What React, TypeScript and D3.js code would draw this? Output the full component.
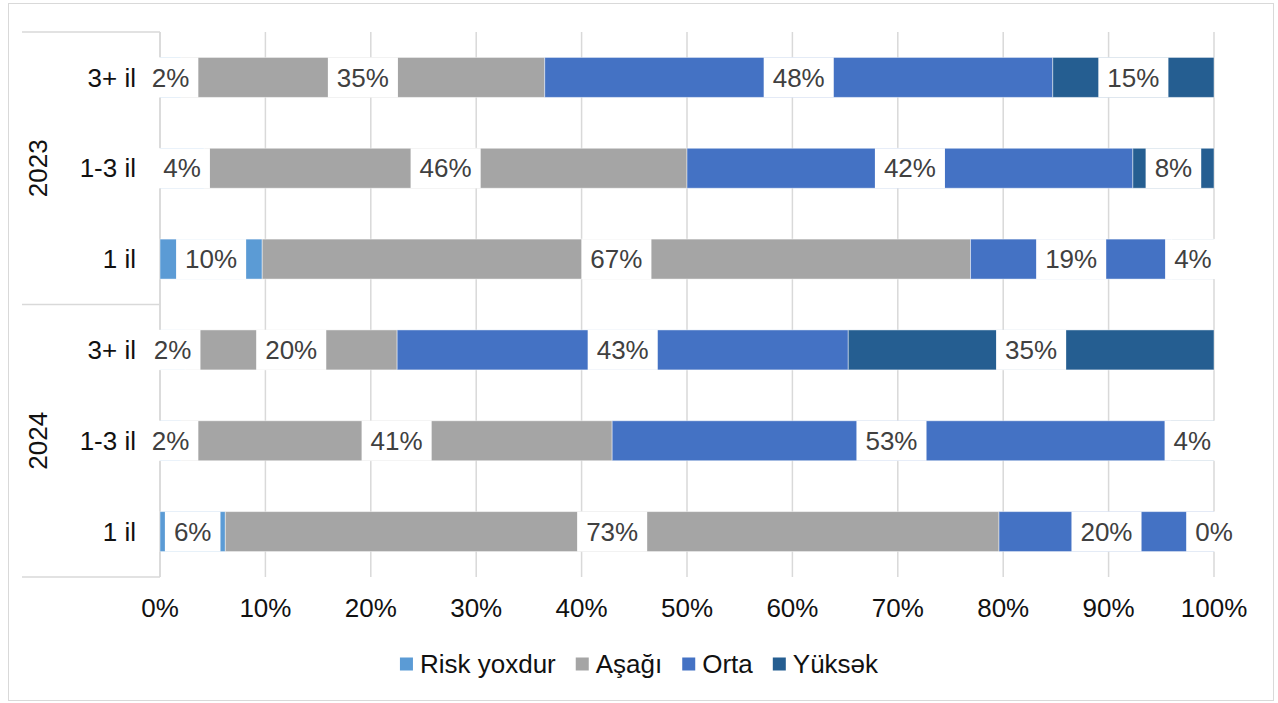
import React from "react";
import * as d3 from "d3";

// categories (top to bottom) and their year groups
const categories = ["3+ il", "1-3 il", "1 il", "3+ il", "1-3 il", "1 il"];
const years = ["2023", "2024"];
const yearOfRow = ["2023", "2023", "2023", "2024", "2024", "2024"];

// series values, % of row
const riskYoxdur = [2.0, 4.2, 9.7, 2.4, 2.0, 6.2];
const asagi = [34.5, 45.8, 67.2, 20.1, 40.9, 73.4];
const orta = [48.2, 42.3, 19.1, 42.8, 53.0, 20.4];
const yuksek = [15.3, 7.7, 4.0, 34.7, 4.1, 0.0];

const seriesNames = ["Risk yoxdur", "Aşağı", "Orta", "Yüksək"];
const seriesColors = ["#5B9BD5", "#A5A5A5", "#4472C4", "#255E91"];
const xTicks = [0, 10, 20, 30, 40, 50, 60, 70, 80, 90, 100];

const W = 1278;
const H = 703;
const margin = { top: 32, right: 64, bottom: 126, left: 160 };
const FONT = '"Liberation Sans", Arial, sans-serif';
const FS = 26;

const measure = (() => {
  const ctx = document.createElement("canvas").getContext("2d");
  return (s: string) => {
    if (!ctx) return s.length * FS * 0.55;
    ctx.font = `${FS}px "Liberation Sans", Arial, sans-serif`;
    return ctx.measureText(s).width;
  };
})();

export default function App() {
  const innerW = W - margin.left - margin.right;
  const innerH = H - margin.top - margin.bottom;

  const rows = categories.map((c, i) => ({
    key: i,
    cat: c,
    year: yearOfRow[i],
    vals: [riskYoxdur[i], asagi[i], orta[i], yuksek[i]],
  }));

  const x = d3.scaleLinear().domain([0, 100]).range([0, innerW]);
  const y = d3
    .scaleBand<number>()
    .domain(rows.map((r) => r.key))
    .range([0, innerH])
    .paddingInner(0.56)
    .paddingOuter(0.28);

  const stack = d3
    .stack<any>()
    .keys(["0", "1", "2", "3"])
    .value((d, k) => d.vals[+k]);
  const stacked = stack(rows);

  const bandH = innerH / rows.length;

  // legend layout
  const sq = 13;
  const legendItems = seriesNames.map((n) => ({ n, w: sq + 7 + measure(n) + 20 }));
  const legendTotal = d3.sum(legendItems, (d) => d.w) - 20;
  let lx = W / 2 - legendTotal / 2;
  const legendPos = legendItems.map((d) => {
    const p = lx;
    lx += d.w;
    return p;
  });

  return (
    <svg
      width={W}
      height={H}
      style={{ position: "absolute", left: 0, top: 0, fontFamily: FONT }}
    >
      <rect x={0} y={0} width={W} height={H} fill="#fff" />
      <rect x={8.5} y={3.5} width={1265} height={697} fill="#fff" stroke="#d9d9d9" />
      <g transform={`translate(${margin.left},${margin.top})`}>
        {/* gridlines */}
        {xTicks.map((t) => (
          <line
            key={t}
            x1={x(t)}
            x2={x(t)}
            y1={0}
            y2={innerH}
            stroke="#d9d9d9"
            strokeWidth={1.5}
          />
        ))}
        {/* category axis frame */}
        {[0, innerH / 2, innerH].map((yy, i) => (
          <line
            key={i}
            x1={22 - margin.left}
            x2={0}
            y1={yy}
            y2={yy}
            stroke="#d9d9d9"
            strokeWidth={1.5}
          />
        ))}
        {/* value axis line */}
        <line x1={0} x2={0} y1={0} y2={innerH} stroke="#d9d9d9" strokeWidth={1.5} />
        {/* bars */}
        {stacked.map((s, si) =>
          s.map((d, ri) => (
            <rect
              key={`${si}-${ri}`}
              x={x(d[0])}
              y={y(rows[ri].key)}
              width={x(d[1]) - x(d[0])}
              height={y.bandwidth()}
              fill={seriesColors[si]}
              stroke="#fff"
              strokeOpacity={0.45}
              strokeWidth={1}
            />
          ))
        )}
        {/* data labels */}
        {stacked.map((s, si) =>
          s.map((d, ri) => {
            const label = `${Math.round(d[1] - d[0])}%`;
            const cx = (x(d[0]) + x(d[1])) / 2;
            const bw = measure(label) + 18;
            const yy = y(rows[ri].key) as number;
            return (
              <g key={`l${si}-${ri}`}>
                <rect
                  x={cx - bw / 2}
                  y={yy}
                  width={bw}
                  height={y.bandwidth()}
                  fill="#fff"
                />
                <text
                  x={cx}
                  y={yy + y.bandwidth() / 2}
                  dy="0.35em"
                  textAnchor="middle"
                  fontSize={FS}
                  fill="#404040"
                >
                  {label}
                </text>
              </g>
            );
          })
        )}
        {/* x tick labels */}
        {xTicks.map((t) => (
          <text
            key={t}
            x={x(t)}
            y={innerH + 31}
            dy="0.35em"
            textAnchor="middle"
            fontSize={FS}
            fill="#111"
          >
            {`${t}%`}
          </text>
        ))}
        {/* category labels */}
        {rows.map((r) => (
          <text
            key={r.key}
            x={-24}
            y={(y(r.key) as number) + y.bandwidth() / 2}
            dy="0.35em"
            textAnchor="end"
            fontSize={FS}
            fill="#111"
          >
            {r.cat}
          </text>
        ))}
        {/* year labels */}
        {years.map((yr) => {
          const idx = rows.filter((r) => r.year === yr).map((r) => r.key);
          const cy = (d3.min(idx)! * bandH + (d3.max(idx)! + 1) * bandH) / 2;
          return (
            <text
              key={yr}
              transform={`translate(${38 - margin.left},${cy}) rotate(-90)`}
              dy="0.35em"
              textAnchor="middle"
              fontSize={FS}
              fill="#111"
            >
              {yr}
            </text>
          );
        })}
      </g>
      {/* legend */}
      <g transform={`translate(0,664)`}>
        {legendItems.map((d, i) => (
          <g key={d.n} transform={`translate(${legendPos[i]},0)`}>
            <rect x={0} y={-sq / 2} width={sq} height={sq} fill={seriesColors[i]} />
            <text x={sq + 7} dy="0.35em" fontSize={FS} fill="#111">
              {d.n}
            </text>
          </g>
        ))}
      </g>
    </svg>
  );
}
